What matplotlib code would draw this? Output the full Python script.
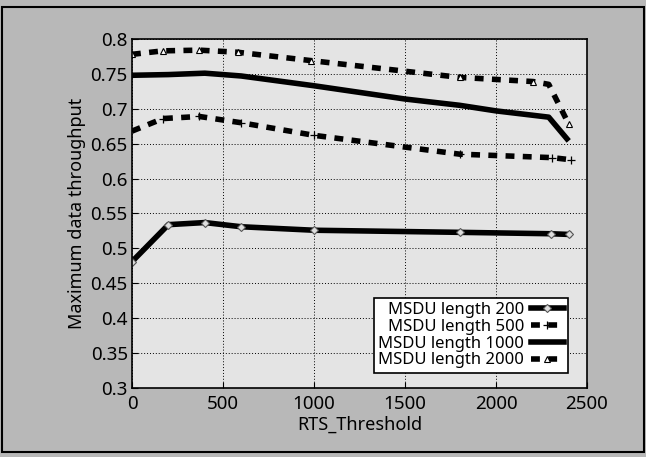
import matplotlib
matplotlib.use("Agg")
import matplotlib.pyplot as plt
from matplotlib.patches import Rectangle

x200 = [0, 200, 400, 600, 1000, 1800, 2300, 2400]
y200 = [0.481, 0.534, 0.537, 0.531, 0.526, 0.523, 0.521, 0.520]

x500 = [0, 170, 370, 600, 1000, 1800, 2310, 2410]
y500 = [0.668, 0.686, 0.689, 0.680, 0.662, 0.635, 0.630, 0.627]

x1000 = [0, 200, 400, 600, 1000, 1500, 1800, 2000, 2290, 2390]
y1000 = [0.748, 0.749, 0.751, 0.747, 0.733, 0.714, 0.705, 0.697, 0.688, 0.657]

x2000 = [0, 170, 370, 580, 985, 1800, 2205, 2290, 2400]
y2000 = [0.778, 0.783, 0.784, 0.781, 0.769, 0.745, 0.739, 0.735, 0.678]

labels = ["MSDU length 200", "MSDU length 500", "MSDU length 1000", "MSDU length 2000"]
xticks = [0, 500, 1000, 1500, 2000, 2500]
yticks = [0.3, 0.35, 0.4, 0.45, 0.5, 0.55, 0.6, 0.65, 0.7, 0.75, 0.8]

plt.rcParams['font.family'] = ['Noto Sans', 'DejaVu Sans']
fig = plt.figure(figsize=(6.46, 4.57), dpi=100, facecolor='#b8b8b8')
ax = fig.add_axes([0.2043, 0.151, 0.7043, 0.7637])
ax.set_facecolor('#e4e4e4')

ax.plot(x200, y200, color='black', lw=4, marker='D', ms=4, mfc='#dddddd', mec='#555555', mew=0.8, label=labels[0])
ax.plot(x500, y500, color='black', lw=4, ls=(0, (1.6, 1.5)), marker='+', ms=6, mec='black', mew=0.9,
        markevery=[1, 2, 3, 4, 5, 6, 7], label=labels[1])
ax.plot(x1000, y1000, color='black', lw=4, label=labels[2])
ax.plot(x2000, y2000, color='black', lw=4, ls=(0, (1.6, 1.5)), marker='^', ms=5, mfc='white', mec='black', mew=0.8,
        markevery=[0, 1, 2, 3, 4, 5, 6, 8], label=labels[3])

ax.set_xlim(0, 2500)
ax.set_ylim(0.3, 0.8)
ax.set_xticks(xticks)
ax.set_xticklabels([str(v) for v in xticks])
ax.set_yticks(yticks)
ax.set_yticklabels([f"{v:g}" for v in yticks])
ax.tick_params(direction='in', labelsize=13.5, length=4, colors='black')
ax.tick_params(axis='x', pad=5)
ax.tick_params(axis='y', pad=3)
ax.grid(True, color='black', ls=(0, (1, 2)), lw=0.7)
for s in ax.spines.values():
    s.set_linewidth(1.2)

ax.set_xlabel("RTS_Threshold", fontsize=13, labelpad=2)
ax.set_ylabel("Maximum data throughput", fontsize=13, labelpad=3)

leg = ax.legend(loc='lower right', bbox_to_anchor=(0.97, 0.03), markerfirst=False, fontsize=12,
                frameon=True, fancybox=False, edgecolor='black', facecolor='white', framealpha=1,
                handlelength=2.0, handletextpad=0.4, borderpad=0.25, labelspacing=0.05,
                borderaxespad=0.3)
leg.get_frame().set_linewidth(1.2)
for t in leg.get_texts():
    t.set_ha('right')

fig.patches.append(Rectangle((0.003, 0.01), 0.994, 0.975, transform=fig.transFigure,
                             fill=False, edgecolor='black', lw=1.5))

fig.savefig("out.png", dpi=100, facecolor=fig.get_facecolor())
